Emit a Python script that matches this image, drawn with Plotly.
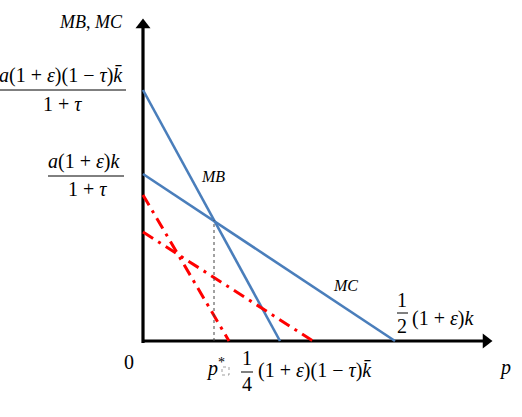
import plotly.graph_objects as go

# Data (horizontal / vertical positions in chart units; origin at 0,0)
mb_x = [0, 137]
mb_y = [251, 0]
mc_x = [0, 252]
mc_y = [167, 0]
red_steep_x = [0, 86]
red_steep_y = [146, 0]
red_shallow_x = [0, 170]
red_shallow_y = [109, 0]
p_star = 71
p_star_y = 121

BLUE = "#4A7EBB"
RED = "#FF0000"
FONT = "Liberation Serif"
RED_DASH = "12px,6px,3px,6px"

fig = go.Figure()
# axes
fig.add_trace(go.Scatter(x=[0, 340], y=[0, 0], mode="lines", line=dict(color="black", width=3.2)))
fig.add_trace(go.Scatter(x=[0, 0], y=[-2, 313], mode="lines", line=dict(color="black", width=3.2)))
fig.add_trace(go.Scatter(x=[343], y=[0], mode="markers",
                         marker=dict(symbol="triangle-right", size=13, color="black")))
fig.add_trace(go.Scatter(x=[0], y=[316], mode="markers",
                         marker=dict(symbol="triangle-up", size=13, color="black")))

fig.add_trace(go.Scatter(x=mb_x, y=mb_y, mode="lines", line=dict(color=BLUE, width=2.6)))
fig.add_trace(go.Scatter(x=mc_x, y=mc_y, mode="lines", line=dict(color=BLUE, width=2.6)))
fig.add_trace(go.Scatter(x=red_steep_x, y=red_steep_y, mode="lines",
                         line=dict(color=RED, width=3, dash=RED_DASH)))
fig.add_trace(go.Scatter(x=red_shallow_x, y=red_shallow_y, mode="lines",
                         line=dict(color=RED, width=3, dash=RED_DASH)))
fig.add_trace(go.Scatter(x=[p_star, p_star], y=[0, p_star_y], mode="lines",
                         line=dict(color="#444444", width=1, dash="dot")))

shapes = []
annotations = []

def txt(x, y, s, size=20, xanchor="center"):
    annotations.append(dict(x=x, y=y, text=s, showarrow=False, xref="x", yref="y",
                            xanchor=xanchor, yanchor="middle",
                            font=dict(family=FONT, size=size, color="black")))

def hline(x0, x1, y):
    shapes.append(dict(type="line", x0=x0, x1=x1, y0=y, y1=y, xref="x", yref="y",
                       line=dict(color="black", width=1)))

txt(-52, 319, "<i>MB</i>, <i>MC</i>", size=18)
# fraction 1
txt(-18, 266, "<i>a</i>(1 + <i>ε</i>)(1 − <i>τ</i>)<i>k̄</i>", xanchor="right")
hline(-143, -17, 251)
txt(-81, 237, "1 + <i>τ</i>")
# fraction 2
txt(-20, 180, "<i>a</i>(1 + <i>ε</i>)<i>k</i>", xanchor="right")
hline(-95, -19, 165)
txt(-56, 152, "1 + <i>τ</i>")

txt(70, 165, "<i>MB</i>", size=16)
txt(202, 56, "<i>MC</i>", size=16)

# 1/2 (1+e)k
txt(259, 41, "1")
hline(254, 265, 28)
txt(259, 15, "2")
txt(267, 23, "(1 + <i>ε</i>)<i>k</i>", xanchor="left")

txt(-14, -21, "0")
txt(72, -26, "<i>p</i><sup>*</sup>")
shapes.append(dict(type="rect", x0=79, x1=86, y0=-34, y1=-26, xref="x", yref="y",
                   line=dict(color="#777777", width=0.7, dash="dot")))

# 1/4 (1+e)(1-t)k
txt(104, -17, "1")
hline(98, 110, -31)
txt(104, -43, "4")
txt(113, -29, "(1 + <i>ε</i>)(1 − <i>τ</i>)<i>k̄</i>", xanchor="left")

txt(362, -26, "<i>p</i>")

fig.update_layout(
    width=522, height=417, margin=dict(l=0, r=0, t=0, b=0),
    paper_bgcolor="white", plot_bgcolor="white", showlegend=False,
    xaxis=dict(range=[-143, 379], visible=False, fixedrange=True),
    yaxis=dict(range=[-76, 341], visible=False, fixedrange=True),
    shapes=shapes, annotations=annotations,
)
fig.write_html("out.html")
